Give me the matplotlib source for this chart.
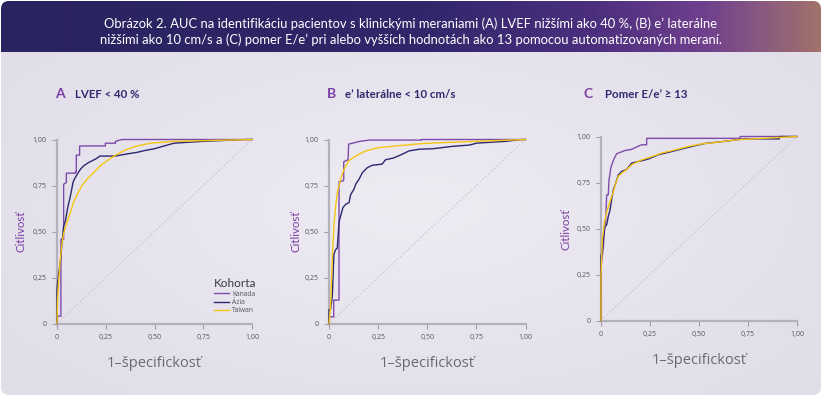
import numpy as np
import matplotlib
matplotlib.use('Agg')
import matplotlib.pyplot as plt
from matplotlib.patches import FancyBboxPatch
from matplotlib.colors import to_rgb

# ---------------- data ----------------
cohorts = ['Kanada', 'Ázia', 'Taiwan']
tick_vals = [0, 0.25, 0.5, 0.75, 1.0]
tick_labels = ['0', '0,25', '0,50', '0,75', '1,00']
panel_letters = ['A', 'B', 'C']
panel_titles = ['LVEF < 40 %', 'e\u2019 laterálne < 10 cm/s', 'Pomer E/e\u2019 \u2265 13']
x_label = '1\u2013špecifickosť'
y_label = 'Citlivosť'
legend_title = 'Kohorta'
header = ('Obrázok 2. AUC na identifikáciu pacientov s klinickými meraniami (A) LVEF nižšími ako 40 %, (B) e\u2019 laterálne\n'
          'nižšími ako 10 cm/s a (C) pomer E/e\u2019 pri alebo vyšších hodnotách ako 13 pomocou automatizovaných meraní.')

# Panel A
kanada_A_x = [0, 0, 0.02, 0.02, 0.034, 0.034, 0.048, 0.048, 0.094, 0.094, 0.099, 0.099, 0.116, 0.116, 0.248, 0.248, 0.30, 0.30, 0.333, 1.0]
kanada_A_y = [0, 0.04, 0.04, 0.457, 0.457, 0.757, 0.766, 0.817, 0.817, 0.824, 0.824, 0.915, 0.915, 0.965, 0.965, 0.98, 0.98, 0.99, 1.0, 1.0]
azia_A_x = [0, 0, 0.009, 0.017, 0.026, 0.034, 0.043, 0.055, 0.065, 0.072, 0.082, 0.089, 0.103, 0.12, 0.137, 0.162, 0.20, 0.22, 0.30, 0.35, 0.41, 0.45, 0.50, 0.55, 0.60, 0.75, 0.97, 1.0]
azia_A_y = [0, 0.185, 0.276, 0.33, 0.44, 0.53, 0.557, 0.63, 0.675, 0.71, 0.766, 0.784, 0.81, 0.838, 0.857, 0.875, 0.895, 0.91, 0.91, 0.92, 0.93, 0.94, 0.95, 0.965, 0.98, 0.99, 1.0, 1.0]
taiwan_A_x = [0, 0.003, 0.009, 0.017, 0.026, 0.034, 0.051, 0.068, 0.085, 0.103, 0.128, 0.154, 0.188, 0.222, 0.256, 0.308, 0.359, 0.41, 0.479, 0.53, 0.6, 0.8, 1.0]
taiwan_A_y = [0, 0.13, 0.24, 0.35, 0.44, 0.49, 0.55, 0.60, 0.66, 0.70, 0.75, 0.784, 0.82, 0.857, 0.884, 0.92, 0.947, 0.965, 0.98, 0.984, 0.99, 0.995, 1.0]

# Panel B
kanada_B_x = [0, 0, 0.024, 0.024, 0.051, 0.051, 0.071, 0.075, 0.075, 0.097, 0.10, 0.12, 0.156, 0.207, 0.47, 0.47, 1.0]
kanada_B_y = [0, 0.036, 0.036, 0.127, 0.127, 0.77, 0.775, 0.78, 0.879, 0.89, 0.975, 0.98, 0.99, 0.997, 0.997, 1.0, 1.0]
azia_B_x = [0, 0, 0.008, 0.017, 0.025, 0.033, 0.042, 0.051, 0.059, 0.071, 0.085, 0.102, 0.11, 0.127, 0.136, 0.153, 0.17, 0.195, 0.22, 0.27, 0.288, 0.33, 0.373, 0.407, 0.458, 0.53, 0.63, 0.716, 0.75, 0.90, 0.98, 1.0]
azia_B_y = [0, 0.076, 0.076, 0.15, 0.375, 0.40, 0.41, 0.55, 0.584, 0.63, 0.648, 0.657, 0.70, 0.73, 0.757, 0.784, 0.82, 0.847, 0.86, 0.866, 0.89, 0.90, 0.92, 0.938, 0.947, 0.95, 0.963, 0.97, 0.98, 0.99, 1.0, 1.0]
taiwan_B_x = [0, 0.008, 0.017, 0.025, 0.034, 0.042, 0.059, 0.076, 0.10, 0.136, 0.187, 0.254, 0.34, 0.475, 0.6, 0.75, 1.0]
taiwan_B_y = [0, 0.094, 0.366, 0.53, 0.64, 0.71, 0.784, 0.838, 0.884, 0.91, 0.938, 0.956, 0.965, 0.978, 0.984, 0.99, 1.0]

# Panel C
kanada_C_x = [0, 0, 0.007, 0.012, 0.017, 0.024, 0.029, 0.037, 0.041, 0.046, 0.05, 0.058, 0.068, 0.08, 0.122, 0.156, 0.18, 0.207, 0.233, 0.233, 0.71, 0.71, 1.0]
kanada_C_y = [0, 0.293, 0.35, 0.40, 0.49, 0.547, 0.683, 0.683, 0.764, 0.80, 0.828, 0.855, 0.882, 0.906, 0.924, 0.93, 0.942, 0.955, 0.955, 0.99, 0.99, 1.0, 1.0]
azia_C_x = [0, 0, 0.007, 0.012, 0.02, 0.029, 0.037, 0.046, 0.054, 0.063, 0.075, 0.088, 0.105, 0.13, 0.156, 0.19, 0.24, 0.29, 0.36, 0.43, 0.48, 0.53, 0.625, 0.73, 0.91, 0.91, 1.0]
azia_C_y = [0, 0.35, 0.384, 0.44, 0.51, 0.52, 0.565, 0.60, 0.656, 0.71, 0.746, 0.79, 0.81, 0.82, 0.855, 0.864, 0.877, 0.90, 0.918, 0.937, 0.95, 0.962, 0.973, 0.987, 0.987, 1.0, 1.0]
taiwan_C_x = [0, 0, 0.007, 0.017, 0.029, 0.046, 0.063, 0.075, 0.088, 0.105, 0.13, 0.156, 0.207, 0.258, 0.31, 0.378, 0.446, 0.514, 0.557, 0.69, 1.0]
taiwan_C_y = [0, 0.24, 0.44, 0.53, 0.59, 0.647, 0.70, 0.746, 0.783, 0.80, 0.82, 0.846, 0.873, 0.89, 0.91, 0.927, 0.946, 0.96, 0.964, 0.982, 1.0]

panels_data = [
    [(kanada_A_x, kanada_A_y), (azia_A_x, azia_A_y), (taiwan_A_x, taiwan_A_y)],
    [(kanada_B_x, kanada_B_y), (azia_B_x, azia_B_y), (taiwan_B_x, taiwan_B_y)],
    [(kanada_C_x, kanada_C_y), (azia_C_x, azia_C_y), (taiwan_C_x, taiwan_C_y)],
]

# ---------------- style ----------------
colors = ['#7D4CAA', '#2B2870', '#F6C514']
FONT = ['Lato', 'DejaVu Sans']
TICKFONT = ['Open Sans', 'DejaVu Sans']
plt.rcParams['font.family'] = FONT

W, H = 822, 398
fig = plt.figure(figsize=(W / 100, H / 100), dpi=100)
fig.patch.set_facecolor('white')

bg = fig.add_axes([0, 0, 1, 1])
bg.set_xlim(0, W)
bg.set_ylim(H, 0)
bg.axis('off')

card = FancyBboxPatch((1, 1), 820, 394, boxstyle='round,pad=0,rounding_size=8',
                      fc='none', ec='none')
bg.add_patch(card)

# body gradient
ny, nx = 120, 240
yy, xx = np.mgrid[0:ny, 0:nx]
d = np.sqrt(((xx / nx - 0.5) / 0.65) ** 2 + ((yy / ny - 0.45) / 0.75) ** 2)
d = np.clip(d, 0, 1)[..., None]
c_in = np.array(to_rgb('#EEEBF3'))
c_out = np.array(to_rgb('#E1DDE9'))
body = c_in * (1 - d) + c_out * d
im = bg.imshow(body, extent=[1, 821, 395, 52], aspect='auto', interpolation='bilinear', zorder=1)
im.set_clip_path(card)

# banner gradient
stops = [(0.0, '#29235F'), (0.5, '#30266A'), (0.72, '#4B2F7E'), (0.86, '#70408D'), (0.93, '#8A5A80'), (1.0, '#A2726A')]
xs = np.linspace(0, 1, 400)
sp = [s[0] for s in stops]
cols = np.array([to_rgb(s[1]) for s in stops])
ban = np.stack([np.interp(xs, sp, cols[:, k]) for k in range(3)], axis=-1)[None, :, :]
im2 = bg.imshow(ban, extent=[1, 821, 52, 1], aspect='auto', interpolation='bilinear', zorder=2)
im2.set_clip_path(card)
bg.text(411, 31.5, header, color='white', fontsize=9.4, ha='center', va='center',
        linespacing=1.35, family=FONT, zorder=3)

# panel geometry (pixels): x0, x1, y_top, y_bottom
geoms = [(57, 252, 139.5, 323.5), (329, 525.5, 139.5, 323.5), (601, 797, 136.5, 320.5)]
title_pos = [(60, 75, 94), (331, 345, 94), (588, 605, 94)]
ylab_right = [26, 301, 571]
ylab_center = [231, 231, 229]
xlab_top = [356, 356, 353]

for i, (x0, x1, yt, yb) in enumerate(geoms):
    ax = fig.add_axes([x0 / W, (H - yb) / H, (x1 - x0) / W, (yb - yt) / H])
    ax.patch.set_alpha(0)
    ax.set_xlim(0, 1)
    ax.set_ylim(0, 1)
    for s in ['top', 'right']:
        ax.spines[s].set_visible(False)
    for s in ['left', 'bottom']:
        ax.spines[s].set_color('#B3B1BB')
        ax.spines[s].set_linewidth(1.6)
    ax.set_xticks(tick_vals)
    ax.set_xticklabels(tick_labels, family=TICKFONT)
    ax.set_yticks(tick_vals)
    ax.set_yticklabels(tick_labels, family=TICKFONT)
    ax.tick_params(length=3.5, width=0.8, color='#A09EAA', labelsize=5.0,
                   labelcolor='#55535F', pad=4)
    ax.plot([0, 1], [0, 1], color='#C8C6D2', lw=0.7, ls=(0, (2, 2)), zorder=1)
    for (xv, yv), c, name in zip(panels_data[i], colors, cohorts):
        ax.plot(xv, yv, color=c, lw=1.0, label=name, clip_on=False, zorder=3)
    ax.set_xlabel(x_label, fontsize=10.5, color='#6A6874', family=['Open Sans', 'DejaVu Sans'])
    ax.xaxis.set_label_coords(0.5, (yb - xlab_top[i]) / (yb - yt))
    ax.set_ylabel(y_label, fontsize=8.3, color='#7B3FA3')
    ax.yaxis.set_label_coords(-(x0 - ylab_right[i]) / (x1 - x0), (yb - ylab_center[i]) / (yb - yt))
    # panel titles
    lx, tx, ty = title_pos[i]
    bg.text(lx, ty, panel_letters[i], color='#7B3FA3', fontsize=10, fontweight='bold',
            ha='center', va='center', zorder=5)
    bg.text(tx, ty, panel_titles[i], color='#2E2A6E', fontsize=8.3, fontweight='bold',
            ha='left', va='center', zorder=5)
    if i == 0:
        leg = ax.legend(title=legend_title, loc='upper left', bbox_to_anchor=(0.805, 0.245),
                        frameon=False, fontsize=4.8, title_fontsize=8.5, handlelength=2.3,
                        handletextpad=0.4, labelspacing=0.2, borderpad=0, borderaxespad=0)
        leg._legend_box.align = 'left'
        leg.get_title().set_color('#3C3A46')
        for t in leg.get_texts():
            t.set_color('#55535F')
            t.set_family(TICKFONT)
        for l in leg.get_lines():
            l.set_linewidth(1.0)

fig.savefig('out.png', dpi=100, facecolor='white')
